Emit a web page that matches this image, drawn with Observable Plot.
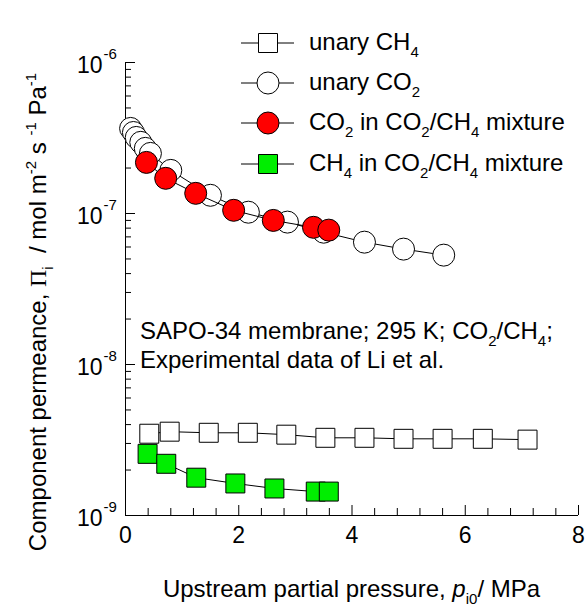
<!DOCTYPE html>
<html><head><meta charset="utf-8">
<script src="https://cdn.jsdelivr.net/npm/d3@7"></script>
<script src="https://cdn.jsdelivr.net/npm/@observablehq/plot@0.6"></script>
<style>body{margin:0;background:#fff} #chart{width:586px;height:607px}</style>
</head><body><div id="chart"></div>
<script>
// ---- data ----
const unaryCH4_p    = [0.42, 0.78, 1.47, 2.16, 2.84, 3.53, 4.22, 4.91, 5.60, 6.31, 7.10];
const unaryCH4_perm = [3.48e-9, 3.59e-9, 3.53e-9, 3.53e-9, 3.43e-9, 3.27e-9, 3.27e-9, 3.22e-9, 3.22e-9, 3.22e-9, 3.18e-9];
const unaryCO2_p    = [0.09, 0.14, 0.19, 0.27, 0.35, 0.44, 0.80, 1.50, 2.17, 2.86, 3.50, 4.22, 4.91, 5.62];
const unaryCO2_perm = [3.66e-7, 3.44e-7, 3.19e-7, 2.96e-7, 2.70e-7, 2.50e-7, 1.93e-7, 1.32e-7, 1.02e-7, 8.77e-8, 7.52e-8, 6.46e-8, 5.81e-8, 5.30e-8];
const mixCO2_p      = [0.37, 0.71, 1.24, 1.91, 2.61, 3.32, 3.59];
const mixCO2_perm   = [2.18e-7, 1.71e-7, 1.36e-7, 1.05e-7, 9.0e-8, 8.1e-8, 7.76e-8];
const mixCH4_p      = [0.39, 0.72, 1.25, 1.94, 2.63, 3.36, 3.59];
const mixCH4_perm   = [2.56e-9, 2.20e-9, 1.78e-9, 1.63e-9, 1.51e-9, 1.44e-9, 1.44e-9];

const xTickValues = [0, 2, 4, 6, 8];
const xTickLabels = ["0", "2", "4", "6", "8"];
const yTickValues = [1e-9, 1e-8, 1e-7, 1e-6];
const yTickExp    = ["-9", "-8", "-7", "-6"];

const legendLabels = [
  [["unary CH", ""], ["4", "sub"]],
  [["unary CO", ""], ["2", "sub"]],
  [["CO", ""], ["2", "sub"], [" in CO", ""], ["2", "sub"], ["/CH", ""], ["4", "sub"], [" mixture", ""]],
  [["CH", ""], ["4", "sub"], [" in CO", ""], ["2", "sub"], ["/CH", ""], ["4", "sub"], [" mixture", ""]]
];

// ---- build tables ----
const zip = (xs, ys) => xs.map((x, i) => ({x, y: ys[i]}));
const sCH4 = zip(unaryCH4_p, unaryCH4_perm);
const sCO2 = zip(unaryCO2_p, unaryCO2_perm);
const mCO2 = zip(mixCO2_p, mixCO2_perm);
const mCH4 = zip(mixCH4_p, mixCH4_perm);

const xMinor = d3.range(0, 8.001, 0.4).map(v => +v.toFixed(2));
const yMinor = [];
for (const e of [-9, -8, -7]) for (let m = 2; m <= 9; m++) yMinor.push(m * Math.pow(10, e));

const FONT = "Arial, 'Liberation Sans', sans-serif";
const W = 586, H = 607, ML = 125, MR = 8, MT = 62, MB = 92;
const PW = W - ML - MR, PH = H - MT - MB;
const GREEN = "#00ee00", RED = "#ff0000";

const plot = Plot.plot({
  width: W, height: H,
  marginLeft: ML, marginRight: MR, marginTop: MT, marginBottom: MB,
  style: {fontFamily: FONT, background: "white", overflow: "visible", color: "black"},
  x: {domain: [0, 8], axis: null},
  y: {type: "log", domain: [1e-9, 1e-6], axis: null},
  marks: [
    Plot.ruleX([0], {stroke: "black", strokeWidth: 1}),
    Plot.ruleY([1e-9], {stroke: "black", strokeWidth: 1}),
    // x ticks (inward)
    Plot.ruleX(xMinor.filter(v => !xTickValues.includes(v)), {x: d => d, insetTop: PH - 7, stroke: "black"}),
    Plot.ruleX(xTickValues, {x: d => d, insetTop: PH - 10, stroke: "black"}),
    // y ticks (inward)
    Plot.ruleY(yMinor, {y: d => d, insetRight: PW - 6, stroke: "black"}),
    Plot.ruleY(yTickValues, {y: d => d, insetRight: PW - 10, stroke: "black"}),
    // tick labels
    Plot.text(xTickValues, {x: d => d, frameAnchor: "bottom", text: (d, i) => xTickLabels[i], dy: 27, fontSize: 23, fill: "black"}),
    Plot.text(yTickValues, {y: d => d, frameAnchor: "left", text: () => "10", textAnchor: "end", dx: -23, dy: 3, fontSize: 23, fill: "black"}),
    Plot.text(yTickValues, {y: d => d, frameAnchor: "left", text: (d, i) => yTickExp[i], textAnchor: "start", dx: -22, dy: -8, fontSize: 15, fill: "black"}),
    // series
    Plot.line(sCH4, {x: "x", y: "y", stroke: "black", strokeWidth: 1}),
    Plot.dot(sCH4, {x: "x", y: "y", symbol: "square", r: 10.7, fill: "white", stroke: "black", strokeWidth: 1}),
    Plot.line(mCH4, {x: "x", y: "y", stroke: "black", strokeWidth: 1}),
    Plot.dot(mCH4, {x: "x", y: "y", symbol: "square", r: 10.7, fill: GREEN, stroke: "black", strokeWidth: 1}),
    Plot.line(sCO2, {x: "x", y: "y", stroke: "black", strokeWidth: 1}),
    Plot.dot(sCO2, {x: "x", y: "y", r: 11, fill: "white", stroke: "black", strokeWidth: 1}),
    Plot.line(mCO2, {x: "x", y: "y", stroke: "black", strokeWidth: 1}),
    Plot.dot(mCO2, {x: "x", y: "y", r: 11, fill: RED, stroke: "black", strokeWidth: 1})
  ]
});
document.getElementById("chart").appendChild(plot);

// ---- rich text helper ----
function rich(textSel, parts, size) {
  let shift = 0;
  for (const [t, kind] of parts) {
    const ts = textSel.append("tspan").text(t);
    const target = kind === "sub" ? 0.28 * size : kind === "sup" ? -0.42 * size : 0;
    if (target - shift !== 0) ts.attr("dy", target - shift);
    shift = target;
    if (kind === "sub" || kind === "sup") ts.attr("font-size", Math.round(size * 0.64));
    if (kind === "it") ts.attr("font-style", "italic");
    if (kind === "serif") ts.attr("font-family", "'Liberation Serif', 'DejaVu Serif', serif");
  }
}

const svg = d3.select(plot);
const g = svg.append("g").attr("font-family", FONT).attr("fill", "black").attr("text-anchor", "start");

// legend
const legendRowsY = [43, 83, 123, 164];
const legendStyle = [
  {sym: d3.symbolSquare, fill: "white"},
  {sym: d3.symbolCircle, fill: "white"},
  {sym: d3.symbolCircle, fill: RED},
  {sym: d3.symbolSquare, fill: GREEN}
];
legendStyle.forEach((s, i) => {
  const y = legendRowsY[i];
  g.append("line").attr("x1", 241).attr("x2", 294).attr("y1", y).attr("y2", y).attr("stroke", "black");
  const size = s.sym === d3.symbolSquare ? 19 * 19 : Math.PI * 11 * 11;
  g.append("path").attr("d", d3.symbol(s.sym, size)()).attr("transform", `translate(268,${y})`)
    .attr("fill", s.fill).attr("stroke", "black");
  const t = g.append("text").attr("x", 309).attr("y", y + 7).attr("font-size", 24);
  rich(t, legendLabels[i], 24);
});

// annotation
const a1 = g.append("text").attr("x", 140).attr("y", 339).attr("font-size", 24);
rich(a1, [["SAPO-34 membrane; 295 K; CO", ""], ["2", "sub"], ["/CH", ""], ["4", "sub"], [";", ""]], 24);
g.append("text").attr("x", 140).attr("y", 368).attr("font-size", 24).text("Experimental data of Li et al.");

// x axis label
const xl = g.append("text").attr("x", ML + PW / 2).attr("y", 597).attr("text-anchor", "middle").attr("font-size", 24);
rich(xl, [["Upstream partial pressure, ", ""], ["p", "it"], ["i0", "sub"], ["/ MPa", ""]], 24);

// y axis label
const yl = g.append("text").attr("transform", "translate(46,312) rotate(-90)").attr("text-anchor", "middle").attr("font-size", 24);
rich(yl, [["Component permeance, ", ""], ["\u03A0", "serif"], ["i", "sub"], ["  / mol m", ""], ["-2", "sup"], [" s ", ""], ["-1", "sup"], [" Pa", ""], ["-1", "sup"]], 24);
</script>
</body></html>
